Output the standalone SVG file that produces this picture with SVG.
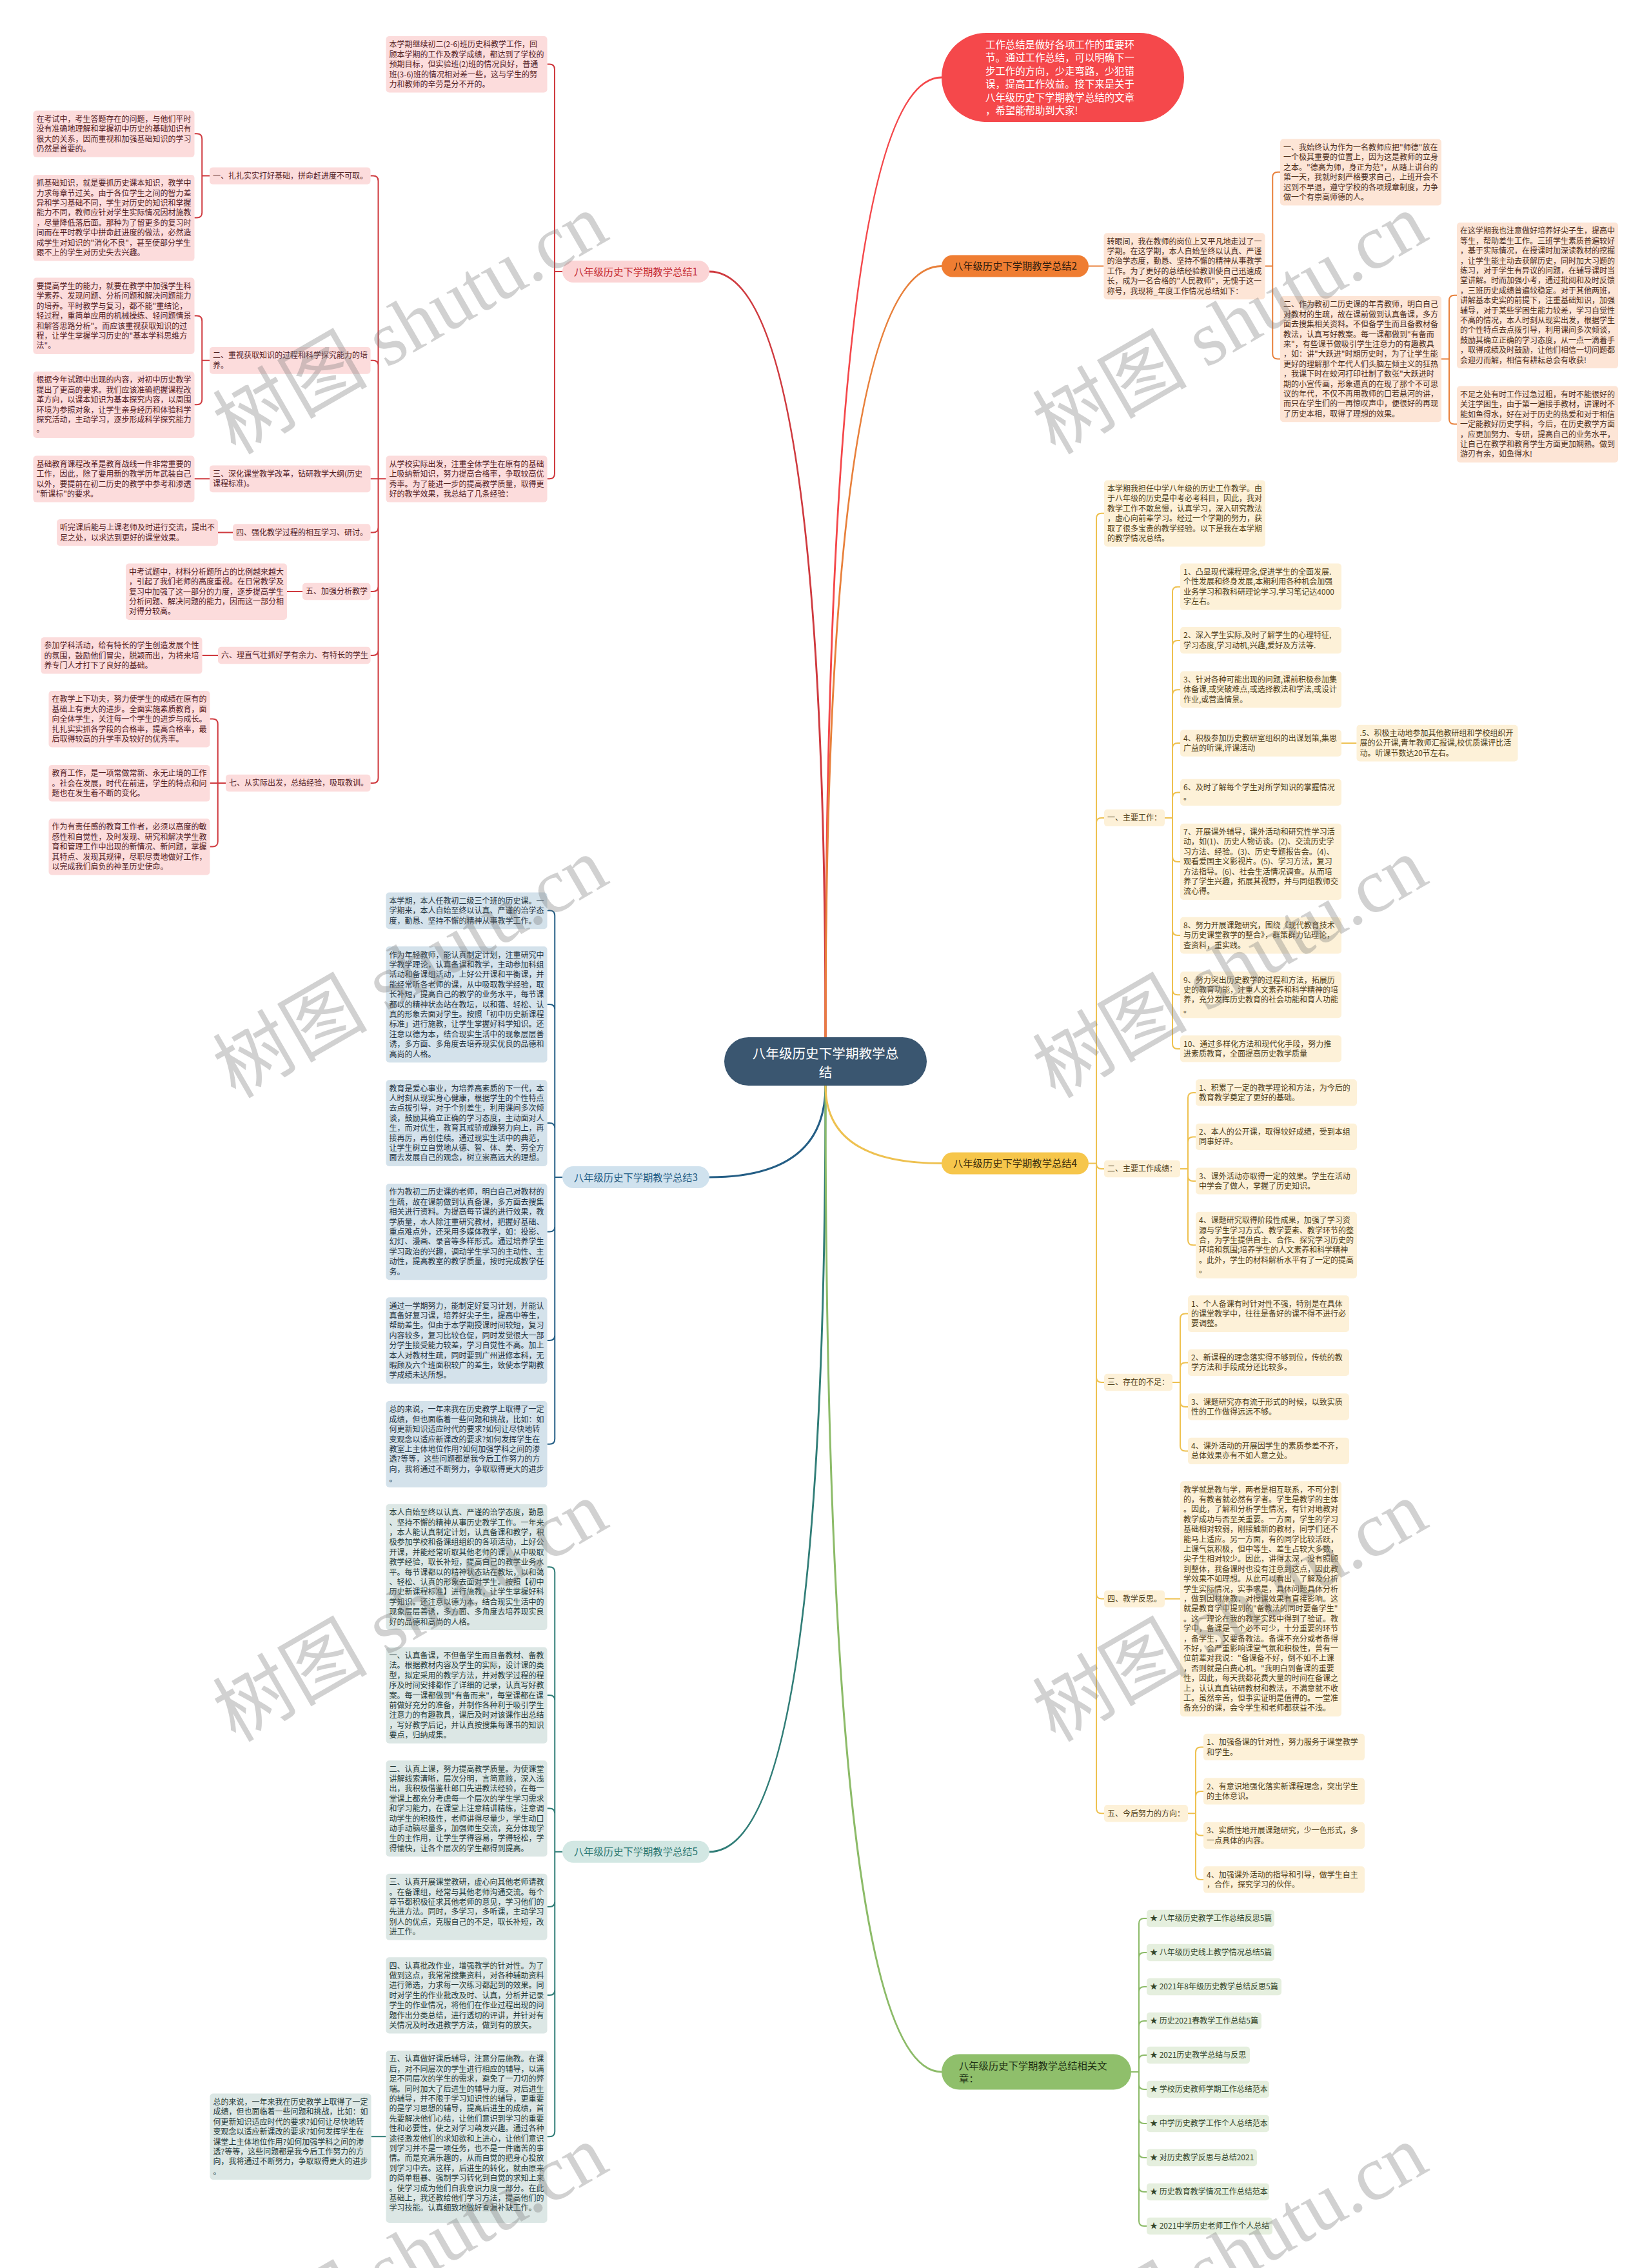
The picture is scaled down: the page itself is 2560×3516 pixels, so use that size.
<svg xmlns="http://www.w3.org/2000/svg" width="2560" height="3516" viewBox="0 0 2560 3516">
<style>
text{font-family:"Noto Sans CJK SC","Noto Sans",sans-serif;font-size:12px}
.h{font-size:15.3px;text-anchor:middle}
.c0{fill:none;stroke:#f4474a;stroke-width:3}
.c1{fill:none;stroke:#cf3a3f;stroke-width:2}
.c2{fill:none;stroke:#e8803b;stroke-width:2}
.c3{fill:none;stroke:#245e85;stroke-width:2}
.c4{fill:none;stroke:#eec150;stroke-width:2}
.c5{fill:none;stroke:#307d77;stroke-width:2}
.c6{fill:none;stroke:#8cbb68;stroke-width:2}
.m1{stroke-width:3}
.r1{fill:#fcdcdc}.x1{fill:#53201f}
.r2{fill:#fde5d6}.x2{fill:#4d2d1a}
.r3{fill:#d4e2eb}.x3{fill:#1f3341}
.r4{fill:#fdf1d8}.x4{fill:#4e3c16}
.r5{fill:#dce7e5}.x5{fill:#253a39}
.r6{fill:#e5efde}.x6{fill:#33452a}
.wm{font-family:"Liberation Serif","Noto Sans CJK SC",serif;font-size:120px;fill:#7a7a7a;opacity:.34}
</style>
<rect width="2560" height="3516" fill="#ffffff"/>

<g id="connectors">
<path class="c0" d="M1280 1608Q1280 120 1460 120"/>
<path class="c1 m1" d="M1280 1608Q1280 421 1100 421"/>
<path class="c2 m1" d="M1280 1608Q1280 412.5 1460 412.5"/>
<path class="c3 m1" d="M1280 1683Q1280 1825 1100 1825"/>
<path class="c5 m1" d="M1280 1683Q1280 2870.7 1100 2870.7"/>
<path class="c6 m1" d="M1280 1683Q1280 3212 1460 3212"/>
<path class="c4 m1" d="M1280 1683Q1280 1803.5 1460 1803.5"/>
<path class="c1" d="M872 421H860V107.5Q860 99.5 852 99.5H848.5M872 421H860V734.3Q860 742.3 852 742.3H848.5"/>
<path class="c1" d="M598.5 742.3H586.5V280.6Q586.5 272.6 578.5 272.6H574.5M598.5 742.3H586.5V566.8Q586.5 558.8 578.5 558.8H574.5M598.5 742.3H574.5M598.5 742.3H586.5V817.4Q586.5 825.4 578.5 825.4H574.5M598.5 742.3H586.5V909Q586.5 917 578.5 917H574.5M598.5 742.3H586.5V1008Q586.5 1016 578.5 1016H574.5M598.5 742.3H586.5V1206Q586.5 1214 578.5 1214H574.5"/>
<path class="c1" d="M325 272.6H313.25V215.3Q313.25 207.3 305.25 207.3H301.5M325 272.6H313.25V329.5Q313.25 337.5 305.25 337.5H301.5"/>
<path class="c1" d="M325 558.8H313.25V497.5Q313.25 489.5 305.25 489.5H301.5M325 558.8H313.25V619.2Q313.25 627.2 305.25 627.2H301.5"/>
<path class="c1" d="M325 742.3H301.5M361 825.4H338M469 917H445M338 1016H313.5"/>
<path class="c1" d="M350 1214H337.75V1122.5Q337.75 1114.5 329.75 1114.5H325.5M350 1214H325.5M350 1214H337.75V1304.5Q337.75 1312.5 329.75 1312.5H325.5"/>
<path class="c2" d="M1688 412.5H1711.5"/>
<path class="c2" d="M1961.5 412.5H1973.25V274.8Q1973.25 266.8 1981.25 266.8H1985M1961.5 412.5H1973.25V548.4Q1973.25 556.4 1981.25 556.4H1985"/>
<path class="c2" d="M2235 556.4H2247V465.8Q2247 457.8 2255 457.8H2259M2235 556.4H2247V649.5Q2247 657.5 2255 657.5H2259"/>
<path class="c3" d="M872 1825H860.25V1419.6Q860.25 1411.6 852.25 1411.6H848.5M872 1825H860.25V1565Q860.25 1557 852.25 1557H848.5M872 1825H860.25V1748.9Q860.25 1740.9 852.25 1740.9H848.5M872 1825H860.25V1901.4Q860.25 1909.4 852.25 1909.4H848.5M872 1825H860.25V2069.9Q860.25 2077.9 852.25 2077.9H848.5M872 1825H860.25V2230.7Q860.25 2238.7 852.25 2238.7H848.5"/>
<path class="c5" d="M872 2870.7H860.25V2437.2Q860.25 2429.2 852.25 2429.2H848.5M872 2870.7H860.25V2635.9Q860.25 2627.9 852.25 2627.9H848.5M872 2870.7H860.25V2811.5Q860.25 2803.5 852.25 2803.5H848.5M872 2870.7H860.25V2948Q860.25 2956 852.25 2956H848.5M872 2870.7H860.25V3085.1Q860.25 3093.1 852.25 3093.1H848.5M872 2870.7H860.25V3304.2Q860.25 3312.2 852.25 3312.2H848.5"/>
<path class="c5" d="M598.5 3312.2H575.5"/>
<path class="c4" d="M1688 1803.5H1700V803.8Q1700 795.8 1708 795.8H1712M1688 1803.5H1700V1275.9Q1700 1267.9 1708 1267.9H1712M1688 1803.5H1700V1804Q1700 1812 1708 1812H1712M1688 1803.5H1700V2135Q1700 2143 1708 2143H1712M1688 1803.5H1700V2470.6Q1700 2478.6 1708 2478.6H1712M1688 1803.5H1700V2803.2Q1700 2811.2 1708 2811.2H1712"/>
<path class="c4" d="M1806 1267.9H1818V917.8Q1818 909.8 1826 909.8H1830M1806 1267.9H1818V1000.9Q1818 992.9 1826 992.9H1830M1806 1267.9H1818V1077.2Q1818 1069.2 1826 1069.2H1830M1806 1267.9H1818V1160.1Q1818 1152.1 1826 1152.1H1830M1806 1267.9H1818V1236.4Q1818 1228.4 1826 1228.4H1830M1806 1267.9H1818V1327.9Q1818 1335.9 1826 1335.9H1830M1806 1267.9H1818V1442.1Q1818 1450.1 1826 1450.1H1830M1806 1267.9H1818V1534.3Q1818 1542.3 1826 1542.3H1830M1806 1267.9H1818V1617.9Q1818 1625.9 1826 1625.9H1830"/>
<path class="c4" d="M2079.5 1152.1H2103.5"/>
<path class="c4" d="M1830 1812H1842V1701.9Q1842 1693.9 1850 1693.9H1854M1830 1812H1842V1770.4Q1842 1762.4 1850 1762.4H1854M1830 1812H1842V1822.9Q1842 1830.9 1850 1830.9H1854M1830 1812H1842V1922.2Q1842 1930.2 1850 1930.2H1854"/>
<path class="c4" d="M1818 2143H1830V2044.6Q1830 2036.6 1838 2036.6H1842M1818 2143H1830V2120.4Q1830 2112.4 1838 2112.4H1842M1818 2143H1830V2172.9Q1830 2180.9 1838 2180.9H1842M1818 2143H1830V2241.4Q1830 2249.4 1838 2249.4H1842"/>
<path class="c4" d="M1806 2478.6H1830"/>
<path class="c4" d="M1842 2811.2H1854V2716.4Q1854 2708.4 1862 2708.4H1866M1842 2811.2H1854V2784.9Q1854 2776.9 1862 2776.9H1866M1842 2811.2H1854V2837.4Q1854 2845.4 1862 2845.4H1866M1842 2811.2H1854V2905.9Q1854 2913.9 1862 2913.9H1866"/>
<path class="c6" d="M1754 3212H1766V2982Q1766 2974 1774 2974H1778M1754 3212H1766V3035Q1766 3027 1774 3027H1778M1754 3212H1766V3088Q1766 3080 1774 3080H1778M1754 3212H1766V3141Q1766 3133 1774 3133H1778M1754 3212H1766V3194Q1766 3186 1774 3186H1778M1754 3212H1766V3231Q1766 3239 1774 3239H1778M1754 3212H1766V3284Q1766 3292 1774 3292H1778M1754 3212H1766V3337Q1766 3345 1774 3345H1778M1754 3212H1766V3390Q1766 3398 1774 3398H1778M1754 3212H1766V3443Q1766 3451 1774 3451H1778"/>
</g>

<g id="root">
<rect x="1123" y="1608" width="314" height="75" rx="37.5" fill="#3a5670"/>
<text x="1280" y="1640.5" style="font-size:20.6px;text-anchor:middle;fill:#ffffff"><tspan x="1280">八年级历史下学期教学总</tspan><tspan x="1280" dy="29">结</tspan></text>
</g>

<g id="intro">
<rect x="1460" y="51" width="376" height="138" rx="69" fill="#f5484b"/>
<text x="1528" y="75" style="font-size:15.4px;fill:#ffffff"><tspan x="1528">工作总结是做好各项工作的重要环</tspan><tspan x="1528" dy="20.4">节。通过工作总结，可以明确下一</tspan><tspan x="1528" dy="20.4">步工作的方向，少走弯路，少犯错</tspan><tspan x="1528" dy="20.4">误，提高工作效益。接下来是关于</tspan><tspan x="1528" dy="20.4">八年级历史下学期教学总结的文章</tspan><tspan x="1528" dy="20.4">，希望能帮助到大家!</tspan></text>
</g>

<g id="b1">
<rect x="872" y="404" width="228" height="34" rx="17" fill="#fbd4d5"/>
<text class="h" x="986" y="426.5" fill="#c4282f">八年级历史下学期教学总结1</text>
</g>
<g id="b1a"><rect class="r1" x="598.5" y="56" width="250" height="87.5" rx="5"/><text class="x1" x="603.5" y="73.3"><tspan x="603.5">本学期继续初二(2-6)班历史科教学工作，回</tspan><tspan x="603.5" dy="15.4">顾本学期的工作及教学成绩，都达到了学校的</tspan><tspan x="603.5" dy="15.4">预期目标，但实验班(2)班的情况良好，普通</tspan><tspan x="603.5" dy="15.4">班(3-6)班的情况相对差一些，这与学生的努</tspan><tspan x="603.5" dy="15.4">力和教师的辛劳是分不开的。</tspan></text></g>
<g id="b1b"><rect class="r1" x="598.5" y="706.5" width="250" height="72.1" rx="5"/><text class="x1" x="603.5" y="723.8"><tspan x="603.5">从学校实际出发，注重全体学生在原有的基础</tspan><tspan x="603.5" dy="15.4">上吸纳新知识，努力提高合格率，争取较高优</tspan><tspan x="603.5" dy="15.4">秀率。为了能进一步的提高教学质量，取得更</tspan><tspan x="603.5" dy="15.4">好的教学效果，我总结了几条经验：</tspan></text></g>
<g id="b1-i1"><rect class="r1" x="325" y="259.4" width="249.5" height="26.4" rx="5"/><text class="x1" x="330" y="277">一、扎扎实实打好基础，拼命赶进度不可取。</text></g>
<g id="b1-i2"><rect class="r1" x="325" y="537.9" width="249.5" height="41.8" rx="5"/><text class="x1" x="330" y="555.2"><tspan x="330">二、重视获取知识的过程和科学探究能力的培</tspan><tspan x="330" dy="15.4">养。</tspan></text></g>
<g id="b1-i3"><rect class="r1" x="325" y="721.4" width="249.5" height="41.8" rx="5"/><text class="x1" x="330" y="738.7"><tspan x="330">三、深化课堂教学改革，钻研教学大纲(历史</tspan><tspan x="330" dy="15.4">课程标准)。</tspan></text></g>
<g id="b1-i4"><rect class="r1" x="361" y="812.2" width="213.5" height="26.4" rx="5"/><text class="x1" x="366" y="829.8">四、强化教学过程的相互学习、研讨。</text></g>
<g id="b1-i5"><rect class="r1" x="469" y="903.8" width="105.5" height="26.4" rx="5"/><text class="x1" x="474" y="921.4">五、加强分析教学</text></g>
<g id="b1-i6"><rect class="r1" x="338" y="1002.8" width="236.5" height="26.4" rx="5"/><text class="x1" x="343" y="1020.4">六、理直气壮抓好学有余力、有特长的学生</text></g>
<g id="b1-i7"><rect class="r1" x="350" y="1200.8" width="224.5" height="26.4" rx="5"/><text class="x1" x="355" y="1218.4">七、从实际出发，总结经验，吸取教训。</text></g>
<g id="b1-t1a"><rect class="r1" x="51.5" y="171.5" width="250" height="72.1" rx="5"/><text class="x1" x="56.5" y="188.8"><tspan x="56.5">在考试中，考生答题存在的问题，与他们平时</tspan><tspan x="56.5" dy="15.4">没有准确地理解和掌握初中历史的基础知识有</tspan><tspan x="56.5" dy="15.4">很大的关系，因而重视和加强基础知识的学习</tspan><tspan x="56.5" dy="15.4">仍然是首要的。</tspan></text></g>
<g id="b1-t1b"><rect class="r1" x="51.5" y="270.9" width="250" height="133.7" rx="5"/><text class="x1" x="56.5" y="288.2"><tspan x="56.5">抓基础知识，就是要抓历史课本知识，教学中</tspan><tspan x="56.5" dy="15.4">力求每章节过关。由于各位学生之间的智力差</tspan><tspan x="56.5" dy="15.4">异和学习基础不同，学生对历史的知识和掌握</tspan><tspan x="56.5" dy="15.4">能力不同，教师应针对学生实际情况因材施教</tspan><tspan x="56.5" dy="15.4">，尽量降低落后面。那种为了留更多的复习时</tspan><tspan x="56.5" dy="15.4">间而在平时教学中拼命赶进度的做法，必然造</tspan><tspan x="56.5" dy="15.4">成学生对知识的"消化不良"，甚至使部分学生</tspan><tspan x="56.5" dy="15.4">跟不上的学生对历史失去兴趣。</tspan></text></g>
<g id="b1-t2a"><rect class="r1" x="51.5" y="430.6" width="250" height="118.3" rx="5"/><text class="x1" x="56.5" y="447.9"><tspan x="56.5">要提高学生的能力，就要在教学中加强学生科</tspan><tspan x="56.5" dy="15.4">学素养、发现问题、分析问题和解决问题能力</tspan><tspan x="56.5" dy="15.4">的培养。平时教学与复习，都不能"重结论，</tspan><tspan x="56.5" dy="15.4">轻过程，重简单应用的机械操练、轻问题情景</tspan><tspan x="56.5" dy="15.4">和解答思路分析"。而应该重视获取知识的过</tspan><tspan x="56.5" dy="15.4">程，让学生掌握学习历史的"基本学科思维方</tspan><tspan x="56.5" dy="15.4">法"。</tspan></text></g>
<g id="b1-t2b"><rect class="r1" x="51.5" y="576" width="250" height="102.9" rx="5"/><text class="x1" x="56.5" y="593.3"><tspan x="56.5">根据今年试题中出现的内容，对初中历史教学</tspan><tspan x="56.5" dy="15.4">提出了更高的要求。我们应该准确把握课程改</tspan><tspan x="56.5" dy="15.4">革方向，以课本知识为基本探究内容，以周围</tspan><tspan x="56.5" dy="15.4">环境为参照对象，让学生亲身经历和体验科学</tspan><tspan x="56.5" dy="15.4">探究活动，主动学习，逐步形成科学探究能力</tspan><tspan x="56.5" dy="15.4">。</tspan></text></g>
<g id="b1-t3"><rect class="r1" x="51.5" y="706.5" width="250" height="72.1" rx="5"/><text class="x1" x="56.5" y="723.8"><tspan x="56.5">基础教育课程改革是教育战线一件非常重要的</tspan><tspan x="56.5" dy="15.4">工作，因此，除了要用新的教学历年武装自己</tspan><tspan x="56.5" dy="15.4">以外，要提前在初二历史的教学中参考和渗透</tspan><tspan x="56.5" dy="15.4">"新课标"的要求。</tspan></text></g>
<g id="b1-t4"><rect class="r1" x="88" y="805" width="250" height="41.3" rx="5"/><text class="x1" x="93" y="822.3"><tspan x="93">听完课后能与上课老师及时进行交流，提出不</tspan><tspan x="93" dy="15.4">足之处，以求达到更好的课堂效果。</tspan></text></g>
<g id="b1-t5"><rect class="r1" x="195" y="873.5" width="250" height="87.5" rx="5"/><text class="x1" x="200" y="890.8"><tspan x="200">中考试题中，材料分析题所占的比例越来越大</tspan><tspan x="200" dy="15.4">，引起了我们老师的高度重视。在日常教学及</tspan><tspan x="200" dy="15.4">复习中加强了这一部分的力度，逐步提高学生</tspan><tspan x="200" dy="15.4">分析问题、解决问题的能力，因而这一部分相</tspan><tspan x="200" dy="15.4">对得分较高。</tspan></text></g>
<g id="b1-t6"><rect class="r1" x="63.5" y="987.9" width="250" height="56.7" rx="5"/><text class="x1" x="68.5" y="1005.2"><tspan x="68.5">参加学科活动，给有特长的学生创造发展个性</tspan><tspan x="68.5" dy="15.4">的氛围，鼓励他们冒尖，脱颖而出，为将来培</tspan><tspan x="68.5" dy="15.4">养专门人才打下了良好的基础。</tspan></text></g>
<g id="b1-t7a"><rect class="r1" x="75.5" y="1071" width="250" height="87.5" rx="5"/><text class="x1" x="80.5" y="1088.3"><tspan x="80.5">在教学上下功夫，努力使学生的成绩在原有的</tspan><tspan x="80.5" dy="15.4">基础上有更大的进步。全面实施素质教育，面</tspan><tspan x="80.5" dy="15.4">向全体学生，关注每一个学生的进步与成长。</tspan><tspan x="80.5" dy="15.4">扎扎实实抓各学段的合格率，提高合格率，最</tspan><tspan x="80.5" dy="15.4">后取得较高的升学率及较好的优秀率。</tspan></text></g>
<g id="b1-t7b"><rect class="r1" x="75.5" y="1185.9" width="250" height="56.7" rx="5"/><text class="x1" x="80.5" y="1203.2"><tspan x="80.5">教育工作，是一项常做常新、永无止境的工作</tspan><tspan x="80.5" dy="15.4">。社会在发展，时代在前进，学生的特点和问</tspan><tspan x="80.5" dy="15.4">题也在发生着不断的变化。</tspan></text></g>
<g id="b1-t7c"><rect class="r1" x="75.5" y="1269" width="250" height="87.5" rx="5"/><text class="x1" x="80.5" y="1286.3"><tspan x="80.5">作为有责任感的教育工作者，必须以高度的敏</tspan><tspan x="80.5" dy="15.4">感性和自觉性，及时发现、研究和解决学生教</tspan><tspan x="80.5" dy="15.4">育和管理工作中出现的新情况、新问题，掌握</tspan><tspan x="80.5" dy="15.4">其特点、发现其规律，尽职尽责地做好工作，</tspan><tspan x="80.5" dy="15.4">以完成我们肩负的神圣历史使命。</tspan></text></g>

<g id="b2">
<rect x="1460" y="395.5" width="228" height="34" rx="17" fill="#ef7d32"/>
<text class="h" x="1574" y="418" fill="#2e1c0e">八年级历史下学期教学总结2</text>
</g>
<g id="b2a"><rect class="r2" x="1711.5" y="361.3" width="250" height="102.9" rx="5"/><text class="x2" x="1716.5" y="378.6"><tspan x="1716.5">转眼间，我在教师的岗位上又平凡地走过了一</tspan><tspan x="1716.5" dy="15.4">学期。在这学期，本人自始至终以认真、严谨</tspan><tspan x="1716.5" dy="15.4">的治学态度，勤恳、坚持不懈的精神从事教学</tspan><tspan x="1716.5" dy="15.4">工作。为了更好的总结经验教训使自己迅速成</tspan><tspan x="1716.5" dy="15.4">长，成为一名合格的"人民教师"，无愧于这一</tspan><tspan x="1716.5" dy="15.4">称号，我现将_年度工作情况总结如下：</tspan></text></g>
<g id="b2b"><rect class="r2" x="1985" y="215.6" width="250" height="102.9" rx="5"/><text class="x2" x="1990" y="232.9"><tspan x="1990">一、我始终认为作为一名教师应把"师德"放在</tspan><tspan x="1990" dy="15.4">一个极其重要的位置上，因为这是教师的立身</tspan><tspan x="1990" dy="15.4">之本。"德高为师，身正为范"，从踏上讲台的</tspan><tspan x="1990" dy="15.4">第一天，我就时刻严格要求自己，上班开会不</tspan><tspan x="1990" dy="15.4">迟到不早退，遵守学校的各项规章制度，力争</tspan><tspan x="1990" dy="15.4">做一个有崇高师德的人。</tspan></text></g>
<g id="b2c"><rect class="r2" x="1985" y="459" width="250" height="195.3" rx="5"/><text class="x2" x="1990" y="476.3"><tspan x="1990">二、作为教初二历史课的年青教师，明白自己</tspan><tspan x="1990" dy="15.4">对教材的生疏，故在课前做到认真备课，多方</tspan><tspan x="1990" dy="15.4">面去搜集相关资料。不但备学生而且备教材备</tspan><tspan x="1990" dy="15.4">教法，认真写好教案。每一课都做到"有备而</tspan><tspan x="1990" dy="15.4">来"，有些课节做吸引学生注意力的有趣教具</tspan><tspan x="1990" dy="15.4">，如：讲"大跃进"时期历史时，为了让学生能</tspan><tspan x="1990" dy="15.4">更好的理解那个年代人们头脑左倾主义的狂热</tspan><tspan x="1990" dy="15.4">，我课下时在蛟河打印社制了数张"大跃进时</tspan><tspan x="1990" dy="15.4">期的小宣传画，形象逼真的在现了那个不可思</tspan><tspan x="1990" dy="15.4">议的年代，不仅不再用教师的口若悬河的讲，</tspan><tspan x="1990" dy="15.4">而只在学生们的一再惊叹声中，便很好的再现</tspan><tspan x="1990" dy="15.4">了历史本相，取得了理想的效果。</tspan></text></g>
<g id="b2d"><rect class="r2" x="2259" y="345" width="250" height="226.1" rx="5"/><text class="x2" x="2264" y="362.3"><tspan x="2264">在这学期我也注意做好培养好尖子生，提高中</tspan><tspan x="2264" dy="15.4">等生，帮助差生工作。三班学生素质普遍较好</tspan><tspan x="2264" dy="15.4">，基于实际情况，在授课时加深读教材的挖掘</tspan><tspan x="2264" dy="15.4">，让学生能主动去获解历史，同时加大习题的</tspan><tspan x="2264" dy="15.4">练习，对于学生有异议的问题，在辅导课时当</tspan><tspan x="2264" dy="15.4">堂讲解。时而加强小考，通过批阅和及时反馈</tspan><tspan x="2264" dy="15.4">，三班历史成绩普遍较稳定。对于其他两班，</tspan><tspan x="2264" dy="15.4">讲解基本史实的前提下，注重基础知识，加强</tspan><tspan x="2264" dy="15.4">辅导，对于某些学困生能力较差，学习自觉性</tspan><tspan x="2264" dy="15.4">不高的情况，本人时刻从现实出发，根据学生</tspan><tspan x="2264" dy="15.4">的个性特点去点拨引导，利用课间多次倾谈，</tspan><tspan x="2264" dy="15.4">鼓励其确立正确的学习态度，从一点一滴着手</tspan><tspan x="2264" dy="15.4">，取得成绩及时鼓励，让他们相信一切问题都</tspan><tspan x="2264" dy="15.4">会迎刃而解，相信有耕耘总会有收获!</tspan></text></g>
<g id="b2e"><rect class="r2" x="2259" y="598.6" width="250" height="118.3" rx="5"/><text class="x2" x="2264" y="615.9"><tspan x="2264">不足之处有时工作过急过粗，有时不能很好的</tspan><tspan x="2264" dy="15.4">关注学困生，由于第一遍接手教材，讲课时不</tspan><tspan x="2264" dy="15.4">能如鱼得水，好在对于历史的热爱和对于相信</tspan><tspan x="2264" dy="15.4">一定能教好历史学科，今后，在历史教学方面</tspan><tspan x="2264" dy="15.4">，应更加努力、专研，提高自己的业务水平，</tspan><tspan x="2264" dy="15.4">让自己在教学和教育学生方面更加娴熟。做到</tspan><tspan x="2264" dy="15.4">游刃有余，如鱼得水!</tspan></text></g>

<g id="b3">
<rect x="872" y="1808" width="228" height="34" rx="17" fill="#d0e2ee"/>
<text class="h" x="986" y="1830.5" fill="#1f5a82">八年级历史下学期教学总结3</text>
</g>
<g id="b3a"><rect class="r3" x="598.5" y="1383.5" width="250" height="56.7" rx="5"/><text class="x3" x="603.5" y="1400.8"><tspan x="603.5">本学期，本人任教初二级三个班的历史课。一</tspan><tspan x="603.5" dy="15.4">学期来，本人自始至终以认真、严谨的治学态</tspan><tspan x="603.5" dy="15.4">度，勤恳、坚持不懈的精神从事教学工作。</tspan></text></g>
<g id="b3b"><rect class="r3" x="598.5" y="1467.3" width="250" height="179.9" rx="5"/><text class="x3" x="603.5" y="1484.6"><tspan x="603.5">作为年轻教师，能认真制定计划，注重研究中</tspan><tspan x="603.5" dy="15.4">学教学理论，认真备课和教学，主动参加科组</tspan><tspan x="603.5" dy="15.4">活动和备课组活动，上好公开课和平衡课，并</tspan><tspan x="603.5" dy="15.4">能经常听各老师的课，从中吸取教学经验，取</tspan><tspan x="603.5" dy="15.4">长补短，提高自己的教学的业务水平，每节课</tspan><tspan x="603.5" dy="15.4">都以的精神状态站在教坛，以和蔼、轻松、认</tspan><tspan x="603.5" dy="15.4">真的形象去面对学生。按照「初中历史新课程</tspan><tspan x="603.5" dy="15.4">标准」进行施教，让学生掌握好科学知识。还</tspan><tspan x="603.5" dy="15.4">注意以德为本，结合现实生活中的现象层层善</tspan><tspan x="603.5" dy="15.4">诱，多方面、多角度去培养现实优良的品德和</tspan><tspan x="603.5" dy="15.4">高尚的人格。</tspan></text></g>
<g id="b3c"><rect class="r3" x="598.5" y="1674.3" width="250" height="133.7" rx="5"/><text class="x3" x="603.5" y="1691.6"><tspan x="603.5">教育是爱心事业，为培养高素质的下一代，本</tspan><tspan x="603.5" dy="15.4">人时刻从现实身心健康，根据学生的个性特点</tspan><tspan x="603.5" dy="15.4">去点拔引导，对于个别差生，利用课间多次倾</tspan><tspan x="603.5" dy="15.4">谈，鼓励其确立正确的学习态度，主动面对人</tspan><tspan x="603.5" dy="15.4">生，而对优生，教育其戒骄戒躁努力向上，再</tspan><tspan x="603.5" dy="15.4">接再厉，再创佳绩。通过现实生活中的典范，</tspan><tspan x="603.5" dy="15.4">让学生树立自觉地从德、智、体、美、劳全方</tspan><tspan x="603.5" dy="15.4">面去发展自己的观念，树立崇高远大的理想。</tspan></text></g>
<g id="b3d"><rect class="r3" x="598.5" y="1835.1" width="250" height="149.1" rx="5"/><text class="x3" x="603.5" y="1852.4"><tspan x="603.5">作为教初二历史课的老师，明白自己对教材的</tspan><tspan x="603.5" dy="15.4">生疏，故在课前做到认真备课，多方面去搜集</tspan><tspan x="603.5" dy="15.4">相关进行资料。为提高每节课的进行效果，教</tspan><tspan x="603.5" dy="15.4">学质量，本人除注重研究教材，把握好基础、</tspan><tspan x="603.5" dy="15.4">重点难点外，还采用多媒体教学，如：投影、</tspan><tspan x="603.5" dy="15.4">幻灯、漫画、录音等多样形式。通过培养学生</tspan><tspan x="603.5" dy="15.4">学习政治的兴趣，调动学生学习的主动性、主</tspan><tspan x="603.5" dy="15.4">动性，提高教室的教学质量，按时完成教学任</tspan><tspan x="603.5" dy="15.4">务。</tspan></text></g>
<g id="b3e"><rect class="r3" x="598.5" y="2011.3" width="250" height="133.7" rx="5"/><text class="x3" x="603.5" y="2028.6"><tspan x="603.5">通过一学期努力，能制定好复习计划，并能认</tspan><tspan x="603.5" dy="15.4">真备好复习课，培养好尖子生，提高中等生，</tspan><tspan x="603.5" dy="15.4">帮助差生。但由于本学期授课时间较短，复习</tspan><tspan x="603.5" dy="15.4">内容较多，复习比较仓促，同时发觉很大一部</tspan><tspan x="603.5" dy="15.4">分学生接受能力较差，学习自觉性不高。加上</tspan><tspan x="603.5" dy="15.4">本人对教材生疏，同时要到广州进修本科，无</tspan><tspan x="603.5" dy="15.4">暇顾及六个班面积较广的差生，致使本学期教</tspan><tspan x="603.5" dy="15.4">学成绩未达所想。</tspan></text></g>
<g id="b3f"><rect class="r3" x="598.5" y="2172.1" width="250" height="133.7" rx="5"/><text class="x3" x="603.5" y="2189.4"><tspan x="603.5">总的来说，一年来我在历史教学上取得了一定</tspan><tspan x="603.5" dy="15.4">成绩，但也面临着一些问题和挑战，比如：如</tspan><tspan x="603.5" dy="15.4">何更新知识适应时代的要求?如何让尽快地转</tspan><tspan x="603.5" dy="15.4">变观念以适应新课改的要求?如何发挥学生在</tspan><tspan x="603.5" dy="15.4">教室上主体地位作用?如何加强学科之间的渗</tspan><tspan x="603.5" dy="15.4">透?等等，这些问题都是我今后工作努力的方</tspan><tspan x="603.5" dy="15.4">向，我将通过不断努力，争取取得更大的进步</tspan><tspan x="603.5" dy="15.4">。</tspan></text></g>

<g id="b5">
<rect x="872" y="2853.7" width="228" height="34" rx="17" fill="#d2e7e3"/>
<text class="h" x="986" y="2876.2" fill="#2b7670">八年级历史下学期教学总结5</text>
</g>
<g id="b5a"><rect class="r5" x="598.5" y="2331.8" width="250" height="195.3" rx="5"/><text class="x5" x="603.5" y="2349.1"><tspan x="603.5">本人自始至终以认真、严谨的治学态度，勤恳</tspan><tspan x="603.5" dy="15.4">、坚持不懈的精神从事历史教学工作。一年来</tspan><tspan x="603.5" dy="15.4">，本人能认真制定计划，认真备课和教学，积</tspan><tspan x="603.5" dy="15.4">极参加学校和备课组组织的各项活动，上好公</tspan><tspan x="603.5" dy="15.4">开课，并能经常听取其他老师的课，从中吸取</tspan><tspan x="603.5" dy="15.4">教学经验，取长补短，提高自己的教学业务水</tspan><tspan x="603.5" dy="15.4">平。每节课都以的精神状态站在教坛，以和蔼</tspan><tspan x="603.5" dy="15.4">、轻松、认真的形象去面对学生。按照【初中</tspan><tspan x="603.5" dy="15.4">历史新课程标准】进行施教，让学生掌握好科</tspan><tspan x="603.5" dy="15.4">学知识。还注意以德为本，结合现实生活中的</tspan><tspan x="603.5" dy="15.4">现象层层善诱，多方面、多角度去培养现实良</tspan><tspan x="603.5" dy="15.4">好的品德和高尚的人格。</tspan></text></g>
<g id="b5b"><rect class="r5" x="598.5" y="2553.6" width="250" height="149.1" rx="5"/><text class="x5" x="603.5" y="2570.9"><tspan x="603.5">一、认真备课，不但备学生而且备教材、备教</tspan><tspan x="603.5" dy="15.4">法。根据教材内容及学生的实际，设计课的类</tspan><tspan x="603.5" dy="15.4">型，拟定采用的教学方法，并对教学过程的程</tspan><tspan x="603.5" dy="15.4">序及时间安排都作了详细的记录，认真写好教</tspan><tspan x="603.5" dy="15.4">案。每一课都做到"有备而来"，每堂课都在课</tspan><tspan x="603.5" dy="15.4">前做好充分的准备，并制作各种利于吸引学生</tspan><tspan x="603.5" dy="15.4">注意力的有趣教具，课后及时对该课作出总结</tspan><tspan x="603.5" dy="15.4">，写好教学后记，并认真按搜集每课书的知识</tspan><tspan x="603.5" dy="15.4">要点，归纳成集。</tspan></text></g>
<g id="b5c"><rect class="r5" x="598.5" y="2729.2" width="250" height="149.1" rx="5"/><text class="x5" x="603.5" y="2746.5"><tspan x="603.5">二、认真上课，努力提高教学质量。为使课堂</tspan><tspan x="603.5" dy="15.4">讲解线索清晰，层次分明，言简意赅，深入浅</tspan><tspan x="603.5" dy="15.4">出，我积极借鉴杜郎口先进教法经验，在每一</tspan><tspan x="603.5" dy="15.4">堂课上都充分考虑每一个层次的学生学习需求</tspan><tspan x="603.5" dy="15.4">和学习能力，在课堂上注意精讲精练，注意调</tspan><tspan x="603.5" dy="15.4">动学生的积极性，老师讲得尽量少，学生动口</tspan><tspan x="603.5" dy="15.4">动手动脑尽量多，加强师生交流，充分体现学</tspan><tspan x="603.5" dy="15.4">生的主作用，让学生学得容易，学得轻松，学</tspan><tspan x="603.5" dy="15.4">得愉快，让各个层次的学生都得到提高。</tspan></text></g>
<g id="b5d"><rect class="r5" x="598.5" y="2904.8" width="250" height="102.9" rx="5"/><text class="x5" x="603.5" y="2922.1"><tspan x="603.5">三、认真开展课堂教研，虚心向其他老师请教</tspan><tspan x="603.5" dy="15.4">。在备课组，经常与其他老师沟通交流。每个</tspan><tspan x="603.5" dy="15.4">章节都积极征求其他老师的意见，学习他们的</tspan><tspan x="603.5" dy="15.4">先进方法。同时，多学习，多听课，主动学习</tspan><tspan x="603.5" dy="15.4">别人的优点，克服自己的不足，取长补短，改</tspan><tspan x="603.5" dy="15.4">进工作。</tspan></text></g>
<g id="b5e"><rect class="r5" x="598.5" y="3034.2" width="250" height="118.3" rx="5"/><text class="x5" x="603.5" y="3051.5"><tspan x="603.5">四、认真批改作业，增强教学的针对性。为了</tspan><tspan x="603.5" dy="15.4">做到这点，我常常搜集资料，对各种辅助资料</tspan><tspan x="603.5" dy="15.4">进行筛选，力求每一次练习都起到的效果。同</tspan><tspan x="603.5" dy="15.4">时对学生的作业批改及时、认真，分析并记录</tspan><tspan x="603.5" dy="15.4">学生的作业情况，将他们在作业过程出现的问</tspan><tspan x="603.5" dy="15.4">题作出分类总结，进行透切的评讲，并针对有</tspan><tspan x="603.5" dy="15.4">关情况及时改进教学方法，做到有的放矢。</tspan></text></g>
<g id="b5f"><rect class="r5" x="598.5" y="3179" width="250" height="266.9" rx="5"/><text class="x5" x="603.5" y="3196.3"><tspan x="603.5">五、认真做好课后辅导，注意分层施教。在课</tspan><tspan x="603.5" dy="15.4">后，对不同层次的学生进行相应的辅导，以满</tspan><tspan x="603.5" dy="15.4">足不同层次的学生的需求，避免了一刀切的弊</tspan><tspan x="603.5" dy="15.4">端。同时加大了后进生的辅导力度。对后进生</tspan><tspan x="603.5" dy="15.4">的辅导，并不限于学习知识性的辅导，更重要</tspan><tspan x="603.5" dy="15.4">的是学习思想的辅导，提高后进生的成绩，首</tspan><tspan x="603.5" dy="15.4">先要解决他们心结，让他们意识到学习的重要</tspan><tspan x="603.5" dy="15.4">性和必要性，使之对学习萌发兴趣。通过各种</tspan><tspan x="603.5" dy="15.4">途径激发他们的求知欲和上进心，让他们意识</tspan><tspan x="603.5" dy="15.4">到学习并不是一项任务，也不是一件痛苦的事</tspan><tspan x="603.5" dy="15.4">情。而是充满乐趣的，从而自觉的把身心投放</tspan><tspan x="603.5" dy="15.4">到学习中去。这样，后进生的转化，就由原来</tspan><tspan x="603.5" dy="15.4">的简单粗暴、强制学习转化到自觉的求知上来</tspan><tspan x="603.5" dy="15.4">。使学习成为他们自我意识力度一部分。在此</tspan><tspan x="603.5" dy="15.4">基础上，我还教给他们学习方法，提高他们的</tspan><tspan x="603.5" dy="15.4">学习技能。认真细致地做好查漏补缺工作。</tspan></text></g>
<g id="b5g"><rect class="r5" x="325.5" y="3245.6" width="250" height="133.7" rx="5"/><text class="x5" x="330.5" y="3262.9"><tspan x="330.5">总的来说，一年来我在历史教学上取得了一定</tspan><tspan x="330.5" dy="15.4">成绩，但也面临着一些问题和挑战，比如：如</tspan><tspan x="330.5" dy="15.4">何更新知识适应时代的要求?如何让尽快地转</tspan><tspan x="330.5" dy="15.4">变观念以适应新课改的要求?如何发挥学生在</tspan><tspan x="330.5" dy="15.4">课堂上主体地位作用?如何加强学科之间的渗</tspan><tspan x="330.5" dy="15.4">透?等等，这些问题都是我今后工作努力的方</tspan><tspan x="330.5" dy="15.4">向，我将通过不断努力，争取取得更大的进步</tspan><tspan x="330.5" dy="15.4">。</tspan></text></g>

<g id="b4">
<rect x="1460" y="1786.5" width="228" height="34" rx="17" fill="#f6c64b"/>
<text class="h" x="1574" y="1809" fill="#3a2c0b">八年级历史下学期教学总结4</text>
</g>
<g id="b4a"><rect class="r4" x="1712" y="744.6" width="250" height="102.9" rx="5"/><text class="x4" x="1717" y="761.9"><tspan x="1717">本学期我担任中学八年级的历史工作教学。由</tspan><tspan x="1717" dy="15.4">于八年级的历史是中考必考科目，因此，我对</tspan><tspan x="1717" dy="15.4">教学工作不敢怠慢，认真学习，深入研究教法</tspan><tspan x="1717" dy="15.4">，虚心向前辈学习。经过一个学期的努力，获</tspan><tspan x="1717" dy="15.4">取了很多宝贵的教学经验。以下是我在本学期</tspan><tspan x="1717" dy="15.4">的教学情况总结。</tspan></text></g>
<g id="b4-1"><rect class="r4" x="1712" y="1254.7" width="94" height="26.4" rx="5"/><text class="x4" x="1717" y="1272.3">一、主要工作：</text></g>
<g id="b4-2"><rect class="r4" x="1712" y="1798.8" width="118" height="26.4" rx="5"/><text class="x4" x="1717" y="1816.4">二、主要工作成绩：</text></g>
<g id="b4-3"><rect class="r4" x="1712" y="2129.8" width="106" height="26.4" rx="5"/><text class="x4" x="1717" y="2147.4">三、存在的不足：</text></g>
<g id="b4-4"><rect class="r4" x="1712" y="2465.4" width="94" height="26.4" rx="5"/><text class="x4" x="1717" y="2483">四、教学反思。</text></g>
<g id="b4-5"><rect class="r4" x="1712" y="2798" width="130" height="26.4" rx="5"/><text class="x4" x="1717" y="2815.6">五、今后努力的方向：</text></g>

<g id="b4-1-1"><rect class="r4" x="1830" y="873.5" width="250" height="72.1" rx="5"/><text class="x4" x="1835" y="890.8"><tspan x="1835">1、凸显现代课程理念,促进学生的全面发展.</tspan><tspan x="1835" dy="15.4">个性发展和终身发展,本期利用各种机会加强</tspan><tspan x="1835" dy="15.4">业务学习和教科研理论学习.学习笔记达4000</tspan><tspan x="1835" dy="15.4">字左右。</tspan></text></g>
<g id="b4-1-2"><rect class="r4" x="1830" y="972" width="250" height="41.3" rx="5"/><text class="x4" x="1835" y="989.3"><tspan x="1835">2、深入学生实际,及时了解学生的心理特征,</tspan><tspan x="1835" dy="15.4">学习态度,学习动机,兴趣,爱好及方法等.</tspan></text></g>
<g id="b4-1-3"><rect class="r4" x="1830" y="1040.6" width="250" height="56.7" rx="5"/><text class="x4" x="1835" y="1057.9"><tspan x="1835">3、针对各种可能出现的问题,课前积极参加集</tspan><tspan x="1835" dy="15.4">体备课,或突破难点,或选择教法和学法,或设计</tspan><tspan x="1835" dy="15.4">作业,或营造情景。</tspan></text></g>
<g id="b4-1-4"><rect class="r4" x="1830" y="1131.4" width="250" height="41.3" rx="5"/><text class="x4" x="1835" y="1148.7"><tspan x="1835">4、积极参加历史教研室组织的出谋划策,集思</tspan><tspan x="1835" dy="15.4">广益的听课,评课活动</tspan></text></g>
<g id="b4-1-4a"><rect class="r4" x="2103.5" y="1123.7" width="250" height="56.7" rx="5"/><text class="x4" x="2108.5" y="1141"><tspan x="2108.5">.5、积极主动地参加其他教研组和学校组织开</tspan><tspan x="2108.5" dy="15.4">展的公开课,青年教师汇报课,校优质课评比活</tspan><tspan x="2108.5" dy="15.4">动。听课节数达20节左右。</tspan></text></g>
<g id="b4-1-6"><rect class="r4" x="1830" y="1207.7" width="250" height="41.3" rx="5"/><text class="x4" x="1835" y="1225"><tspan x="1835">6、及时了解每个学生对所学知识的掌握情况</tspan><tspan x="1835" dy="15.4">。</tspan></text></g>
<g id="b4-1-7"><rect class="r4" x="1830" y="1276.7" width="250" height="118.3" rx="5"/><text class="x4" x="1835" y="1294"><tspan x="1835">7、开展课外辅导，课外活动和研究性学习活</tspan><tspan x="1835" dy="15.4">动，如(1)、历史人物访谈。(2)、交流历史学</tspan><tspan x="1835" dy="15.4">习方法、经验。(3)、历史专题报告会。(4)、</tspan><tspan x="1835" dy="15.4">观看爱国主义影视片。(5)、学习方法，复习</tspan><tspan x="1835" dy="15.4">方法指导。(6)、社会生活情况调查。从而培</tspan><tspan x="1835" dy="15.4">养了学生兴趣，拓展其视野，并与同组教师交</tspan><tspan x="1835" dy="15.4">流心得。</tspan></text></g>
<g id="b4-1-8"><rect class="r4" x="1830" y="1421.7" width="250" height="56.7" rx="5"/><text class="x4" x="1835" y="1439"><tspan x="1835">8、努力开展课题研究，围绕《现代教育技术</tspan><tspan x="1835" dy="15.4">与历史课堂教学的整合》，群策群力钻理论，</tspan><tspan x="1835" dy="15.4">查资料，重实践。</tspan></text></g>
<g id="b4-1-9"><rect class="r4" x="1830" y="1506.2" width="250" height="72.1" rx="5"/><text class="x4" x="1835" y="1523.5"><tspan x="1835">9、努力突出历史教学的过程和方法，拓展历</tspan><tspan x="1835" dy="15.4">史的教育功能，注重人文素养和科学精神的培</tspan><tspan x="1835" dy="15.4">养，充分发挥历史教育的社会功能和育人功能</tspan><tspan x="1835" dy="15.4">。</tspan></text></g>
<g id="b4-1-10"><rect class="r4" x="1830" y="1605.2" width="250" height="41.3" rx="5"/><text class="x4" x="1835" y="1622.5"><tspan x="1835">10、通过多样化方法和现代化手段，努力推</tspan><tspan x="1835" dy="15.4">进素质教育，全面提高历史教学质量</tspan></text></g>

<g id="b4-2-1"><rect class="r4" x="1854" y="1673.2" width="250" height="41.3" rx="5"/><text class="x4" x="1859" y="1690.5"><tspan x="1859">1、积累了一定的教学理论和方法，为今后的</tspan><tspan x="1859" dy="15.4">教育教学奠定了更好的基础。</tspan></text></g>
<g id="b4-2-2"><rect class="r4" x="1854" y="1741.7" width="250" height="41.3" rx="5"/><text class="x4" x="1859" y="1759"><tspan x="1859">2、本人的公开课，取得较好成绩，受到本组</tspan><tspan x="1859" dy="15.4">同事好评。</tspan></text></g>
<g id="b4-2-3"><rect class="r4" x="1854" y="1810.2" width="250" height="41.3" rx="5"/><text class="x4" x="1859" y="1827.5"><tspan x="1859">3、课外活动亦取得一定的效果。学生在活动</tspan><tspan x="1859" dy="15.4">中学会了做人，掌握了历史知识。</tspan></text></g>
<g id="b4-2-4"><rect class="r4" x="1854" y="1878.8" width="250" height="102.9" rx="5"/><text class="x4" x="1859" y="1896.1"><tspan x="1859">4、课题研究取得阶段性成果，加强了学习资</tspan><tspan x="1859" dy="15.4">源与学生学习方式、教学要素、教学环节的整</tspan><tspan x="1859" dy="15.4">合，为学生提供自主、合作、探究学习历史的</tspan><tspan x="1859" dy="15.4">环境和氛围;培养学生的人文素养和科学精神</tspan><tspan x="1859" dy="15.4">。此外，学生的材料解析水平有了一定的提高</tspan><tspan x="1859" dy="15.4">。</tspan></text></g>

<g id="b4-3-1"><rect class="r4" x="1842" y="2008.2" width="250" height="56.7" rx="5"/><text class="x4" x="1847" y="2025.5"><tspan x="1847">1、个人备课有时针对性不强，特别是在具体</tspan><tspan x="1847" dy="15.4">的课堂教学中，往往是备好的课不得不进行必</tspan><tspan x="1847" dy="15.4">要调整。</tspan></text></g>
<g id="b4-3-2"><rect class="r4" x="1842" y="2091.7" width="250" height="41.3" rx="5"/><text class="x4" x="1847" y="2109"><tspan x="1847">2、新课程的理念落实得不够到位，传统的教</tspan><tspan x="1847" dy="15.4">学方法和手段成分还比较多。</tspan></text></g>
<g id="b4-3-3"><rect class="r4" x="1842" y="2160.2" width="250" height="41.3" rx="5"/><text class="x4" x="1847" y="2177.5"><tspan x="1847">3、课题研究亦有流于形式的时候，以致实质</tspan><tspan x="1847" dy="15.4">性的工作做得远远不够。</tspan></text></g>
<g id="b4-3-4"><rect class="r4" x="1842" y="2228.7" width="250" height="41.3" rx="5"/><text class="x4" x="1847" y="2246"><tspan x="1847">4、课外活动的开展因学生的素质参差不齐，</tspan><tspan x="1847" dy="15.4">总体效果亦有不如人意之处。</tspan></text></g>

<g id="b4-4-1"><rect class="r4" x="1830" y="2296.3" width="250" height="364.7" rx="5"/><text class="x4" x="1835" y="2313.6"><tspan x="1835">教学就是教与学，两者是相互联系，不可分割</tspan><tspan x="1835" dy="15.4">的，有教者就必然有学者。学生是教学的主体</tspan><tspan x="1835" dy="15.4">。因此，了解和分析学生情况，有针对地教对</tspan><tspan x="1835" dy="15.4">教学成功与否至关重要。一方面，学生的学习</tspan><tspan x="1835" dy="15.4">基础相对较弱，刚接触新的教材，同学们还不</tspan><tspan x="1835" dy="15.4">能马上适应。另一方面，有的同学比较活跃，</tspan><tspan x="1835" dy="15.4">上课气氛积极，但中等生、差生占较大多数，</tspan><tspan x="1835" dy="15.4">尖子生相对较少。因此，讲得太深，没有照顾</tspan><tspan x="1835" dy="15.4">到整体，我备课时也没有注意到这点，因此教</tspan><tspan x="1835" dy="15.4">学效果不如理想。从此可以看出，了解及分析</tspan><tspan x="1835" dy="15.4">学生实际情况，实事求是，具体问题具体分析</tspan><tspan x="1835" dy="15.4">，做到因材施教，对授课效果有直接影响。这</tspan><tspan x="1835" dy="15.4">就是教育学中提到的"备教法的同时要备学生"</tspan><tspan x="1835" dy="15.4">。这一理论在我的教学实践中得到了验证。教</tspan><tspan x="1835" dy="15.4">学中，备课是一个必不可少，十分重要的环节</tspan><tspan x="1835" dy="15.4">，备学生，又要备教法。备课不充分或者备得</tspan><tspan x="1835" dy="15.4">不好，会严重影响课堂气氛和积极性，曾有一</tspan><tspan x="1835" dy="15.4">位前辈对我说："备课备不好，倒不如不上课</tspan><tspan x="1835" dy="15.4">，否则就是白费心机。"我明白到备课的重要</tspan><tspan x="1835" dy="15.4">性，因此，每天我都花费大量的时间在备课之</tspan><tspan x="1835" dy="15.4">上，认认真真钻研教材和教法，不满意就不收</tspan><tspan x="1835" dy="15.4">工。虽然辛苦，但事实证明是值得的。一堂准</tspan><tspan x="1835" dy="15.4">备充分的课，会令学生和老师都获益不浅。</tspan></text></g>

<g id="b4-5-1"><rect class="r4" x="1866" y="2687.8" width="250" height="41.3" rx="5"/><text class="x4" x="1871" y="2705.1"><tspan x="1871">1、加强备课的针对性，努力服务于课堂教学</tspan><tspan x="1871" dy="15.4">和学生。</tspan></text></g>
<g id="b4-5-2"><rect class="r4" x="1866" y="2756.3" width="250" height="41.3" rx="5"/><text class="x4" x="1871" y="2773.6"><tspan x="1871">2、有意识地强化落实新课程理念，突出学生</tspan><tspan x="1871" dy="15.4">的主体意识。</tspan></text></g>
<g id="b4-5-3"><rect class="r4" x="1866" y="2824.8" width="250" height="41.3" rx="5"/><text class="x4" x="1871" y="2842.1"><tspan x="1871">3、实质性地开展课题研究，少一色形式，多</tspan><tspan x="1871" dy="15.4">一点具体的内容。</tspan></text></g>
<g id="b4-5-4"><rect class="r4" x="1866" y="2893.3" width="250" height="41.3" rx="5"/><text class="x4" x="1871" y="2910.6"><tspan x="1871">4、加强课外活动的指导和引导，做学生自主</tspan><tspan x="1871" dy="15.4">，合作，探究学习的伙伴。</tspan></text></g>

<g id="b6">
<rect x="1460" y="3184.5" width="294" height="55" rx="27.5" fill="#8fbf6b"/>
<text x="1487" y="3208" style="font-size:15.3px;fill:#1f2f14"><tspan x="1487">八年级历史下学期教学总结相关文</tspan><tspan x="1487" dy="20">章：</tspan></text>
</g>
<g id="b6-1"><rect class="r6" x="1778" y="2960.7" width="198" height="26.6" rx="5"/><text class="x6" x="1783" y="2978.4">★ 八年级历史教学工作总结反思5篇</text></g>
<g id="b6-2"><rect class="r6" x="1778" y="3013.7" width="198" height="26.6" rx="5"/><text class="x6" x="1783" y="3031.4">★ 八年级历史线上教学情况总结5篇</text></g>
<g id="b6-3"><rect class="r6" x="1778" y="3066.7" width="209" height="26.6" rx="5"/><text class="x6" x="1783" y="3084.4">★ 2021年8年级历史教学总结反思5篇</text></g>
<g id="b6-4"><rect class="r6" x="1778" y="3119.7" width="178" height="26.6" rx="5"/><text class="x6" x="1783" y="3137.4">★ 历史2021春教学工作总结5篇</text></g>
<g id="b6-5"><rect class="r6" x="1778" y="3172.7" width="160" height="26.6" rx="5"/><text class="x6" x="1783" y="3190.4">★ 2021历史教学总结与反思</text></g>
<g id="b6-6"><rect class="r6" x="1778" y="3225.7" width="190" height="26.6" rx="5"/><text class="x6" x="1783" y="3243.4">★ 学校历史教师学期工作总结范本</text></g>
<g id="b6-7"><rect class="r6" x="1778" y="3278.7" width="190" height="26.6" rx="5"/><text class="x6" x="1783" y="3296.4">★ 中学历史教学工作个人总结范本</text></g>
<g id="b6-8"><rect class="r6" x="1778" y="3331.7" width="171" height="26.6" rx="5"/><text class="x6" x="1783" y="3349.4">★ 对历史教学反思与总结2021</text></g>
<g id="b6-9"><rect class="r6" x="1778" y="3384.7" width="190" height="26.6" rx="5"/><text class="x6" x="1783" y="3402.4">★ 历史教育教学情况工作总结范本</text></g>
<g id="b6-10"><rect class="r6" x="1778" y="3437.7" width="195" height="26.6" rx="5"/><text class="x6" x="1783" y="3455.4">★ 2021中学历史老师工作个人总结</text></g>

<g id="watermark">
<text class="wm" transform="translate(365 706) rotate(-30)">树图 shutu.cn</text>
<text class="wm" transform="translate(1636 706) rotate(-30)">树图 shutu.cn</text>
<text class="wm" transform="translate(365 1704) rotate(-30)">树图 shutu.cn</text>
<text class="wm" transform="translate(1636 1704) rotate(-30)">树图 shutu.cn</text>
<text class="wm" transform="translate(365 2702) rotate(-30)">树图 shutu.cn</text>
<text class="wm" transform="translate(1636 2702) rotate(-30)">树图 shutu.cn</text>
<text class="wm" transform="translate(365 3700) rotate(-30)">树图 shutu.cn</text>
<text class="wm" transform="translate(1636 3700) rotate(-30)">树图 shutu.cn</text>
</g>
</svg>
